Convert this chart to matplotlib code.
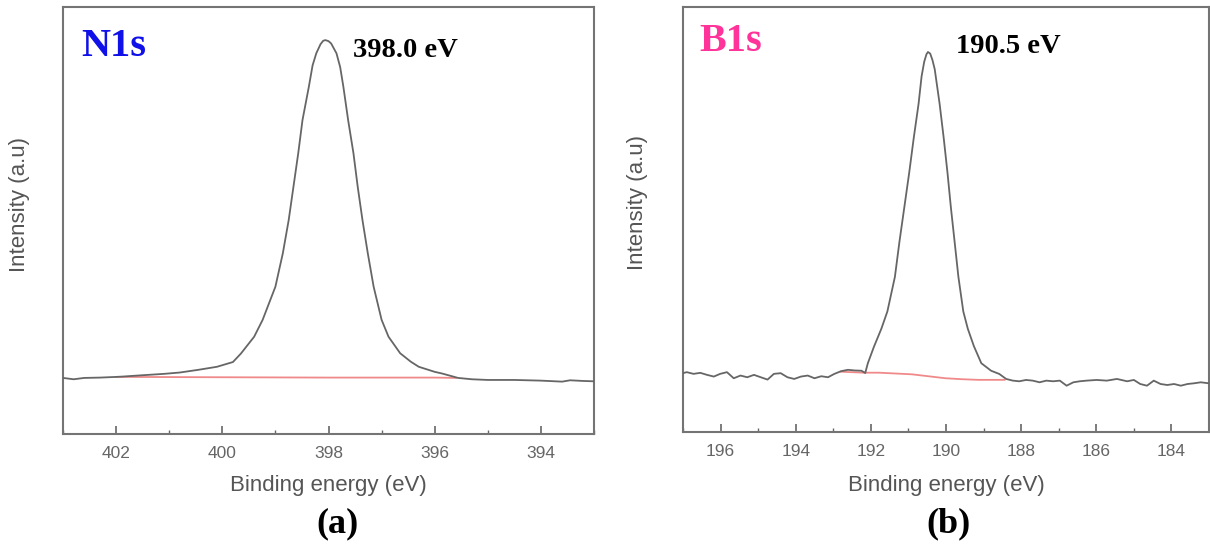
import matplotlib
matplotlib.use("Agg")
import matplotlib.pyplot as plt
from matplotlib.ticker import MultipleLocator

# N1s spectrum
n1s_energy = [403.0, 402.8, 402.6, 402.3, 402.0, 401.88, 401.5, 401.1, 400.8, 400.45,
              400.1, 399.8, 399.65, 399.4, 399.24, 399.0, 398.86, 398.75, 398.66, 398.57,
              398.49, 398.37, 398.30, 398.23, 398.15, 398.10, 398.06, 398.0, 397.95, 397.85,
              397.78, 397.72, 397.63, 397.53, 397.45, 397.36, 397.26, 397.15, 397.0, 396.87,
              396.65, 396.45, 396.3, 396.0, 395.86, 395.56, 395.3, 395.0, 394.5, 394.0,
              393.6, 393.45, 393.2, 393.0]
n1s_intensity = [0.0, -0.004, 0.0, 0.001, 0.003, 0.004, 0.008, 0.012, 0.016, 0.024,
                 0.033, 0.047, 0.072, 0.122, 0.172, 0.270, 0.369, 0.467, 0.566, 0.665,
                 0.763, 0.862, 0.925, 0.961, 0.988, 0.998, 1.0, 0.997, 0.99, 0.961,
                 0.92, 0.862, 0.763, 0.665, 0.566, 0.467, 0.369, 0.270, 0.172, 0.122,
                 0.073, 0.048, 0.033, 0.018, 0.013, 0.0, -0.004, -0.006, -0.006, -0.008,
                 -0.011, -0.007, -0.009, -0.010]
n1s_bg_energy = [402.0, 400.0, 398.0, 396.0, 395.6]
n1s_bg_intensity = [0.003, 0.002, 0.001, 0.001, 0.0]

# B1s spectrum
b1s_energy = [197.0, 196.90, 196.72, 196.54, 196.36, 196.18, 196.01, 195.83, 195.65, 195.47,
              195.29, 195.11, 194.93, 194.75, 194.58, 194.40, 194.22, 194.04, 193.86, 193.68,
              193.50, 193.32, 193.14, 192.97, 192.79, 192.61, 192.43, 192.25, 192.15, 192.08,
              191.92, 191.72, 191.56, 191.36, 191.24, 191.11, 190.98, 190.86, 190.73, 190.65,
              190.58, 190.52, 190.48, 190.42, 190.36, 190.30, 190.17, 190.06, 189.96, 189.87,
              189.77, 189.67, 189.54, 189.42, 189.26, 189.06, 188.80, 188.58, 188.40, 188.22,
              188.05, 187.87, 187.69, 187.51, 187.33, 187.15, 186.97, 186.79, 186.61, 186.44,
              186.26, 185.99, 185.72, 185.45, 185.18, 185.00, 184.83, 184.65, 184.47, 184.29,
              184.11, 183.93, 183.75, 183.57, 183.40, 183.22, 183.0]
b1s_intensity = [0.0145, 0.0176, 0.0124, 0.0155, 0.0093, 0.0041, 0.0124, 0.0176, -0.0011, 0.0072,
                 0.0020, 0.0093, 0.0020, -0.0052, 0.0124, 0.0145, 0.0020, -0.0032, 0.0041, 0.0072,
                 -0.0011, 0.0051, 0.0020, 0.0124, 0.0207, 0.0248, 0.0228, 0.022, 0.015, 0.045,
                 0.095, 0.151, 0.204, 0.310, 0.417, 0.523, 0.629, 0.735, 0.841, 0.925,
                 0.97, 0.993, 1.0, 0.995, 0.975, 0.947, 0.841, 0.735, 0.629, 0.523,
                 0.417, 0.310, 0.204, 0.151, 0.098, 0.045, 0.022, 0.012, -0.0032, -0.0084,
                 -0.0104, -0.0063, -0.0084, -0.0135, -0.0084, -0.0104, -0.0084, -0.0239, -0.0135, -0.0104,
                 -0.0084, -0.0063, -0.0084, -0.0032, -0.0104, -0.0063, -0.0187, -0.0239, -0.0084, -0.0187,
                 -0.0218, -0.0187, -0.0239, -0.0187, -0.0166, -0.0135, -0.0166]
b1s_bg_energy = [192.80, 192.2, 191.79, 190.91, 190.02, 189.58, 189.14, 188.44]
b1s_bg_intensity = [0.019, 0.016, 0.016, 0.011, -0.001, -0.004, -0.006, -0.006]

panels = [
    dict(energy=n1s_energy, inten=n1s_intensity, bg_e=n1s_bg_energy, bg_i=n1s_bg_intensity,
         xlim=(403, 393), ylim=(-0.166, 1.098), name="N1s", name_color="#1010e8",
         peak="398.0 eV", letter="(a)",
         rect=[63 / 1210, 110 / 544, 531 / 1210, 427 / 544],
         name_xy=(0.035, 0.885), peak_xy=(0.546, 0.883)),
    dict(energy=b1s_energy, inten=b1s_intensity, bg_e=b1s_bg_energy, bg_i=b1s_bg_intensity,
         xlim=(197, 183), ylim=(-0.166, 1.138), name="B1s", name_color="#ff3399",
         peak="190.5 eV", letter="(b)",
         rect=[683 / 1210, 112 / 544, 526 / 1210, 425 / 544],
         name_xy=(0.032, 0.896), peak_xy=(0.519, 0.892)),
]

ylabel_pos = [(20, 205), (638, 202)]
letter_x = [337, 949]

fig = plt.figure(figsize=(12.1, 5.44), dpi=100)

for i, p in enumerate(panels):
    ax = fig.add_axes(p["rect"])
    ax.plot(p["bg_e"], p["bg_i"], color="#f08a8a", lw=1.3, zorder=2)
    ax.plot(p["energy"], p["inten"], color="#666666", lw=1.3, zorder=3)
    ax.set_xlim(*p["xlim"])
    ax.set_ylim(*p["ylim"])
    ax.xaxis.set_major_locator(MultipleLocator(2))
    ax.xaxis.set_minor_locator(MultipleLocator(1))
    ax.set_yticks([])
    ax.tick_params(axis="x", which="major", direction="in", length=6, width=1.2,
                   color="#666666", labelcolor="#666666", labelsize=12.5, pad=8.5,
                   labelfontfamily="Liberation Sans")
    ax.tick_params(axis="x", which="minor", direction="in", length=3, width=1.0, color="#666666")
    for s in ax.spines.values():
        s.set_color("#747474")
        s.set_linewidth(1.5)

    ax.text(*p["name_xy"], p["name"], transform=ax.transAxes, color=p["name_color"],
            fontsize=29, fontweight="bold", family="Liberation Serif", va="baseline")
    ax.text(*p["peak_xy"], p["peak"], transform=ax.transAxes, color="black",
            fontsize=20.5, fontweight="bold", family="Liberation Serif", va="baseline")

    cx = (p["rect"][0] + p["rect"][2] / 2)
    fig.text(cx, 1 - 486 / 544, "Binding energy (eV)", ha="center", va="center",
             fontsize=16, color="#555555", family="Liberation Sans")
    fig.text(ylabel_pos[i][0] / 1210, 1 - ylabel_pos[i][1] / 544, "Intensity (a.u)",
             rotation=90, ha="center", va="center", fontsize=16, color="#555555",
             family="Liberation Sans")
    fig.text(letter_x[i] / 1210, 1 - 524 / 544, p["letter"], ha="center", va="center",
             fontsize=26, fontweight="bold", family="Liberation Serif", color="black")

fig.savefig("out.png", dpi=100)
